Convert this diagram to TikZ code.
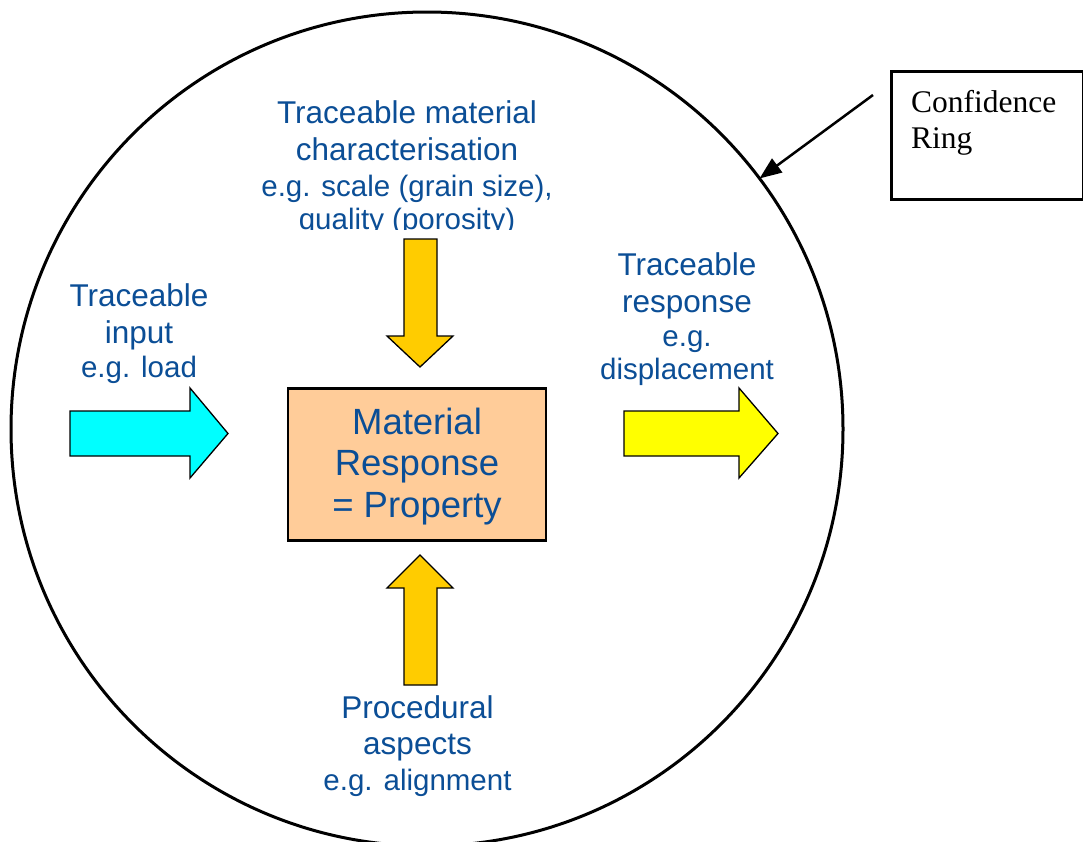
\documentclass[tikz,border=0pt]{standalone}
\usepackage{fontspec}
\setmainfont{Liberation Sans}
\newfontfamily\timesfont{Liberation Serif}
\usetikzlibrary{shapes.geometric,arrows.meta}
\definecolor{txtblue}{HTML}{0B4E96}
\definecolor{peach}{HTML}{FFCC99}
\definecolor{gold}{HTML}{FFCC00}
\definecolor{cyanfill}{HTML}{00FFFF}
\definecolor{yellowfill}{HTML}{FFFF00}
\newcommand{\blk}[1]{\begin{tabular}[t]{@{}c@{}}#1\end{tabular}}
\newcommand{\egsize}{\fontsize{29.5}{30}\selectfont}
\tikzset{
  bluetext/.style={text=txtblue, inner sep=0, outer sep=0, anchor=base},
  blockarrow/.style={draw=black, line width=1.3pt, line join=miter},
}
\begin{document}
\begin{tikzpicture}[x=1pt,y=-1pt]
\useasboundingbox (0,0) rectangle (1083,841);
\fill[white] (0,0) rectangle (1083,841);

% confidence ring
\node[ellipse, draw, line width=3pt, minimum width=832pt, minimum height=834pt,
      inner sep=0, outer sep=0] (ring) at (427,429) {};

% confidence box
\node[draw, line width=2.5pt, minimum width=192pt, minimum height=128pt,
      inner sep=0, anchor=north west] (confbox) at (890,70) {};
\node[inner sep=0, anchor=base west, font=\timesfont\fontsize{31.5}{36}\selectfont]
  (conftext) at (911,112) {\begin{tabular}[t]{@{}l@{}}Confidence\\Ring\end{tabular}};
\coordinate (confstart) at (873,95);
\draw[line width=2.5pt, -{Triangle[length=22pt,width=17pt]}] (confstart) -- (ring.37);

% central box
\node[draw, line width=2.5pt, fill=peach, minimum width=258pt, minimum height=152pt,
      inner sep=0] (core) at (417,464.5) {};
\node[bluetext, font=\fontsize{36.5}{41.5}\selectfont] (coretext) at (417,434)
  {\blk{Material\\Response\\= Property}};

% block arrows
\draw[blockarrow, fill=cyanfill] (70,411) -- (190,411) -- (190,388) -- (228,433.5)
  -- (190,478) -- (190,456) -- (70,456) -- cycle;
\draw[blockarrow, fill=yellowfill] (624,411) -- (739,411) -- (739,388) -- (778,433.5)
  -- (739,478) -- (739,456) -- (624,456) -- cycle;
\draw[blockarrow, fill=gold] (404,239) -- (437,239) -- (437,336) -- (453,336)
  -- (420,367) -- (387,336) -- (404,336) -- cycle;
\draw[blockarrow, fill=gold] (404,685) -- (437,685) -- (437,588) -- (453,588)
  -- (420,555) -- (387,588) -- (404,588) -- cycle;

% texts
\begin{scope}
\clip (240,80) rectangle (580,229.5);
\node[bluetext, font=\fontsize{31.5}{33}\selectfont] (toptext) at (407,123)
  {\blk{Traceable material\\[4pt] characterisation\\[3pt]
   {\egsize e.g. scale (grain size),}\\ {\egsize quality (porosity)}}};
\end{scope}
\node[bluetext, font=\fontsize{31.5}{34}\selectfont] (lefttext) at (139,306)
  {\blk{Traceable\\[3pt] input\\ {\egsize e.g. load}}};
\node[bluetext, font=\fontsize{31.5}{33}\selectfont] (righttext) at (687,275)
  {\blk{Traceable\\[4pt] response\\[1pt] {\egsize e.g.}\\ {\egsize displacement}}};
\node[bluetext, font=\fontsize{31.5}{36}\selectfont] (bottomtext) at (417.5,718)
  {\blk{Procedural\\ aspects\\ {\egsize e.g. alignment}}};
\end{tikzpicture}
\end{document}
